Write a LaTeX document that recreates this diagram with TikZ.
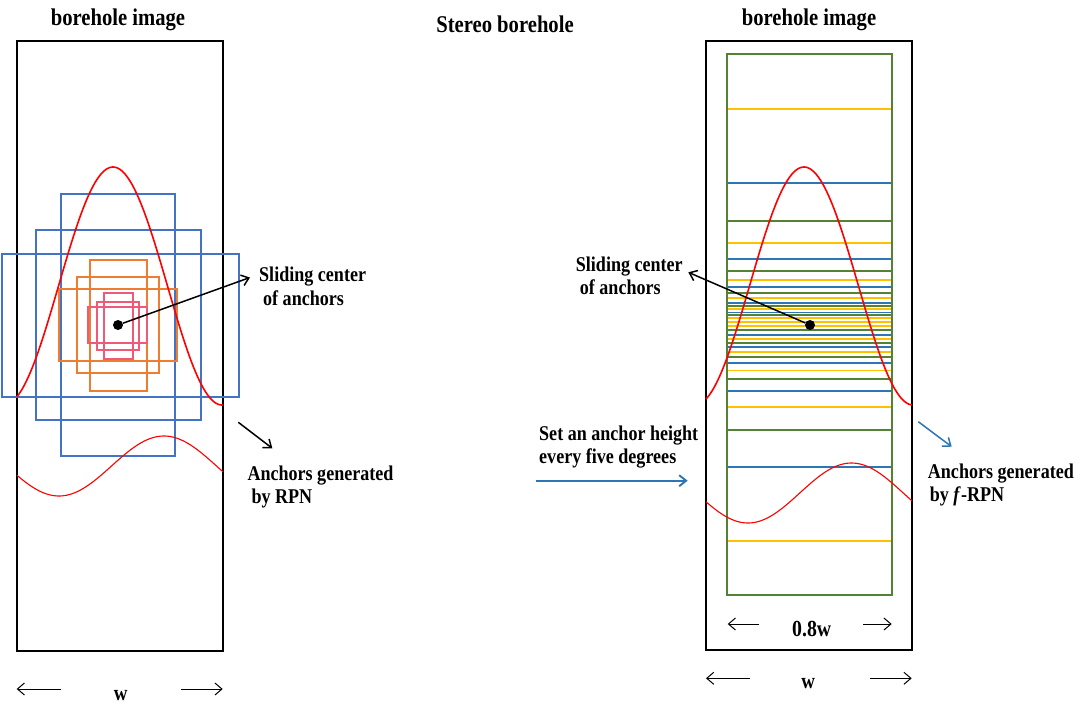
\documentclass[tikz,border=0pt]{standalone}
\usepackage{fontspec}
\setmainfont{Liberation Serif}[FakeStretch=0.86]
\usetikzlibrary{arrows.meta}
\definecolor{bxblue}{HTML}{4472C4}
\definecolor{stblue}{HTML}{2E75B6}
\definecolor{bxorange}{HTML}{ED7D31}
\definecolor{bxpink}{HTML}{EE5A78}
\definecolor{stgreen}{HTML}{548235}
\definecolor{styellow}{HTML}{FFC000}
\definecolor{curvered}{HTML}{FF0000}
\begin{document}
\begin{tikzpicture}[x=1pt,y=-1pt,
  frame/.style={draw=black,line width=2pt},
  bluebox/.style={draw=bxblue,line width=1.6pt},
  orangebox/.style={draw=bxorange,line width=1.6pt},
  pinkbox/.style={draw=bxpink,line width=1.6pt},
  greenbox/.style={draw=stgreen,line width=1.8pt},
  stripe/.style={line width=1.8pt},
  redc/.style={draw=curvered,line width=1.6pt},
  redthin/.style={draw=curvered,line width=1.1pt},
  dot/.style={circle,fill=black,inner sep=0pt,minimum size=10pt},
  title/.style={font=\fontsize{24}{28}\selectfont\bfseries,inner sep=0pt,anchor=base},
  lab/.style={font=\fontsize{21}{23.5}\selectfont\bfseries,inner sep=0pt,anchor=base west,align=left},
  dimlab/.style={font=\fontsize{22}{26}\selectfont\bfseries,inner sep=0pt,anchor=base},
  arr/.style={-{Straight Barb[length=7pt,width=11pt]},line width=1.5pt},
  dimarr/.style={-{Straight Barb[length=7pt,width=12pt]},line width=1pt}
]
\useasboundingbox (0,0) rectangle (1080,707);
\fill[white] (0,0) rectangle (1080,707);

% ---------------- left panel ----------------
\draw[frame] (17,41) rectangle (223,651);
\draw[bluebox] (61,194) rectangle (175,456);
\draw[bluebox] (36,230) rectangle (201,420);
\draw[bluebox] (2,254) rectangle (239,397);
\draw[orangebox] (90,260) rectangle (147,391);
\draw[orangebox] (77,277) rectangle (159,373);
\draw[orangebox] (59,289) rectangle (177,361);
\draw[pinkbox] (104,293) rectangle (133,359);
\draw[pinkbox] (97,302) rectangle (139,350);
\draw[pinkbox] (88,307) rectangle (147,343);
\draw[redc] plot[domain=17:223,samples=120] (\x,{286-119*cos(1.65138*(\x-113))});
\draw[redthin] plot[domain=17:223,samples=100] (\x,{466+30*cos(1.71429*(\x-59))});
\node[dot] (dl) at (118,325) {};

\node[title] (tl) at (118,25) {borehole image};
% anchor base = baseline of the last line
\node[lab] (sl) at (259,305.2) {Sliding center\\\hspace*{4pt}of anchors};
\node[lab] (al) at (247.3,503.5) {Anchors generated\\\hspace*{4pt}by RPN};
\coordinate (slt) at (250,277.5);
\draw[arr] (dl) -- (slt);
\coordinate (alA) at (238.3,422.3);
\coordinate (alB) at (272.3,448.3);
\draw[arr] (alA) -- (alB);

\node[dimlab] (wl) at (120.7,700) {w};
\coordinate (wlA) at (61,689);
\coordinate (wlB) at (16.7,689);
\coordinate (wlC) at (181,689);
\coordinate (wlD) at (222.7,689);
\draw[dimarr] (wlA) -- (wlB);
\draw[dimarr] (wlC) -- (wlD);

% ---------------- middle ----------------
\node[title] (ts) at (505,32) {Stereo borehole};
\node[lab] (sh) at (539,463.5) {Set an anchor height\\every five degrees};
\coordinate (shA) at (535.7,480.7);
\coordinate (shB) at (687.7,480.7);
\draw[arr,draw=stblue,line width=1.9pt] (shA) -- (shB);

% ---------------- right panel ----------------
\draw[frame] (706,41) rectangle (912,650);
\foreach \yy/\cc in {109/styellow,183/stblue,221/stgreen,243/styellow,259/stblue,271/stgreen,
  280/styellow,287/stblue,293/stgreen,298/styellow,303/stblue,306/stgreen,309/styellow,
  312.5/stblue,315/stgreen,318/styellow,322/styellow,326/styellow,330/stgreen,335/stblue,
  339/styellow,343/stgreen,347/stblue,352/styellow,357/stgreen,363/stblue,370.5/styellow,
  379/stgreen,391/stblue,407/styellow,430/stgreen,467/stblue,541/styellow}
  \draw[stripe,draw=\cc] (727,\yy) -- (892,\yy);
\draw[greenbox] (727,54) rectangle (892,595);
\draw[redc] plot[domain=706:912,samples=120] (\x,{286-119*cos(1.65138*(\x-804))});
\draw[redthin] plot[domain=706:912,samples=100] (\x,{493+30*cos(1.73913*(\x-748))});
\node[dot] (dr) at (810,325) {};

\node[title] (tr) at (809,25) {borehole image};
\node[lab] (sr) at (575.7,294.5) {Sliding center\\\hspace*{4pt}of anchors};
\coordinate (srt) at (688.3,272.3);
\draw[arr] (dr) -- (srt);
\node[lab] (ar) at (927.7,501.5) {Anchors generated\\\hspace*{2pt}by \textit{f}-RPN};
\coordinate (arA) at (918.3,421.7);
\coordinate (arB) at (951.7,446.7);
\draw[arr,draw=stblue] (arA) -- (arB);

\node[dimlab,font=\fontsize{23}{27}\selectfont\bfseries] (w8) at (811.7,636) {0.8w};
\coordinate (w8A) at (759,624);
\coordinate (w8B) at (727.7,624);
\coordinate (w8C) at (863.3,624);
\coordinate (w8D) at (891.7,624);
\draw[dimarr] (w8A) -- (w8B);
\draw[dimarr] (w8C) -- (w8D);

\node[dimlab] (wr) at (808.3,688) {w};
\coordinate (wrA) at (750,678.3);
\coordinate (wrB) at (706,678.3);
\coordinate (wrC) at (870,678.3);
\coordinate (wrD) at (911.7,678.3);
\draw[dimarr] (wrA) -- (wrB);
\draw[dimarr] (wrC) -- (wrD);
\end{tikzpicture}
\end{document}
